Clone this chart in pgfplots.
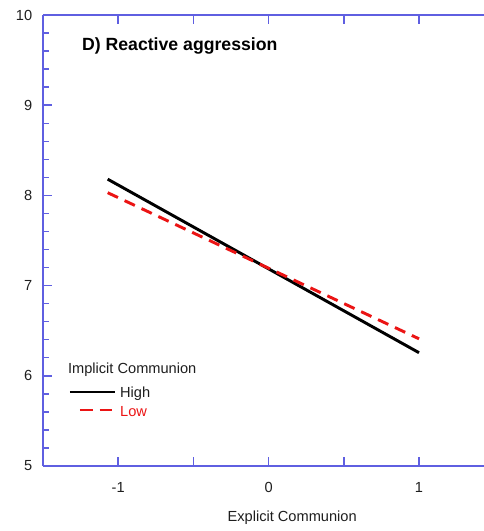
\documentclass[border=0pt]{standalone}
\usepackage{fontspec}
\setmainfont{Liberation Sans}
\usepackage{pgfplots}
\pgfplotsset{compat=1.18}
\definecolor{axisblue}{RGB}{95,95,225}
\definecolor{lowred}{RGB}{235,20,20}
\definecolor{txt}{RGB}{30,30,30}

\begin{document}
\begin{tikzpicture}
\begin{axis}[
    at={(0,0)}, anchor=south west,
    scale only axis,
    width=330.75bp, height=338.25bp,
    xmin=-1.5, xmax=1.432,
    ymin=5, ymax=10,
    axis x line=box, axis y line*=left,
    axis line style={axisblue, line width=1.5bp},
    tick align=inside,
    tick style={axisblue, line width=1.1bp},
    major tick length=6.75bp, minor tick length=4.5bp,
    xtick={-1,-0.5,0,0.5,1},
    xticklabels={-1,,0,,1},
    ytick={5,6,7,8,9,10},
    minor y tick num=4,
    /pgf/number format/assume math mode=true,
    ticklabel style={font=\fontsize{11}{13}\selectfont, text=txt},
    xticklabel style={yshift=-9bp},
    yticklabel style={xshift=-4.6bp},
    xlabel={Explicit Communion},
    xlabel style={at={(axis description cs:0.565,0)}, anchor=center,
        yshift=-39bp, font=\fontsize{11}{13}\selectfont, text=txt},
    clip=false,
]
% simple slopes
\addplot[black, line width=2.2bp] coordinates {(-1.07,8.18) (1,6.256)};
\addplot[lowred, line width=2.2bp, dash pattern=on 8.5bp off 5.5bp] coordinates {(-1.07,8.03) (1,6.41)};

% legend drawn in data space
\addplot[black, line width=2bp] coordinates {(-1.322,5.820) (-1.022,5.820)};
\addplot[lowred, line width=2bp, dash pattern=on 9.75bp off 5bp] coordinates {(-1.255,5.621) (-1.042,5.621)};
\node[anchor=base west, inner sep=0, font=\fontsize{11}{13}\selectfont, text=txt] at (axis cs:-1.335,6.031) {Implicit Communion};
\node[anchor=base west, inner sep=0, font=\fontsize{11}{13}\selectfont, text=txt] at (axis cs:-0.989,5.754) {High};
\node[anchor=base west, inner sep=0, font=\fontsize{11}{13}\selectfont, text=lowred] at (axis cs:-0.989,5.554) {Low};

\node[anchor=west, inner sep=0, font=\fontsize{13.3}{15}\selectfont\bfseries, text=black] at (axis cs:-1.242,9.656) {D) Reactive aggression};
\end{axis}
\pgfresetboundingbox
\path[use as bounding box] (-32.25bp,-48.75bp) rectangle (330.75bp,349.5bp);
\end{tikzpicture}
\end{document}
